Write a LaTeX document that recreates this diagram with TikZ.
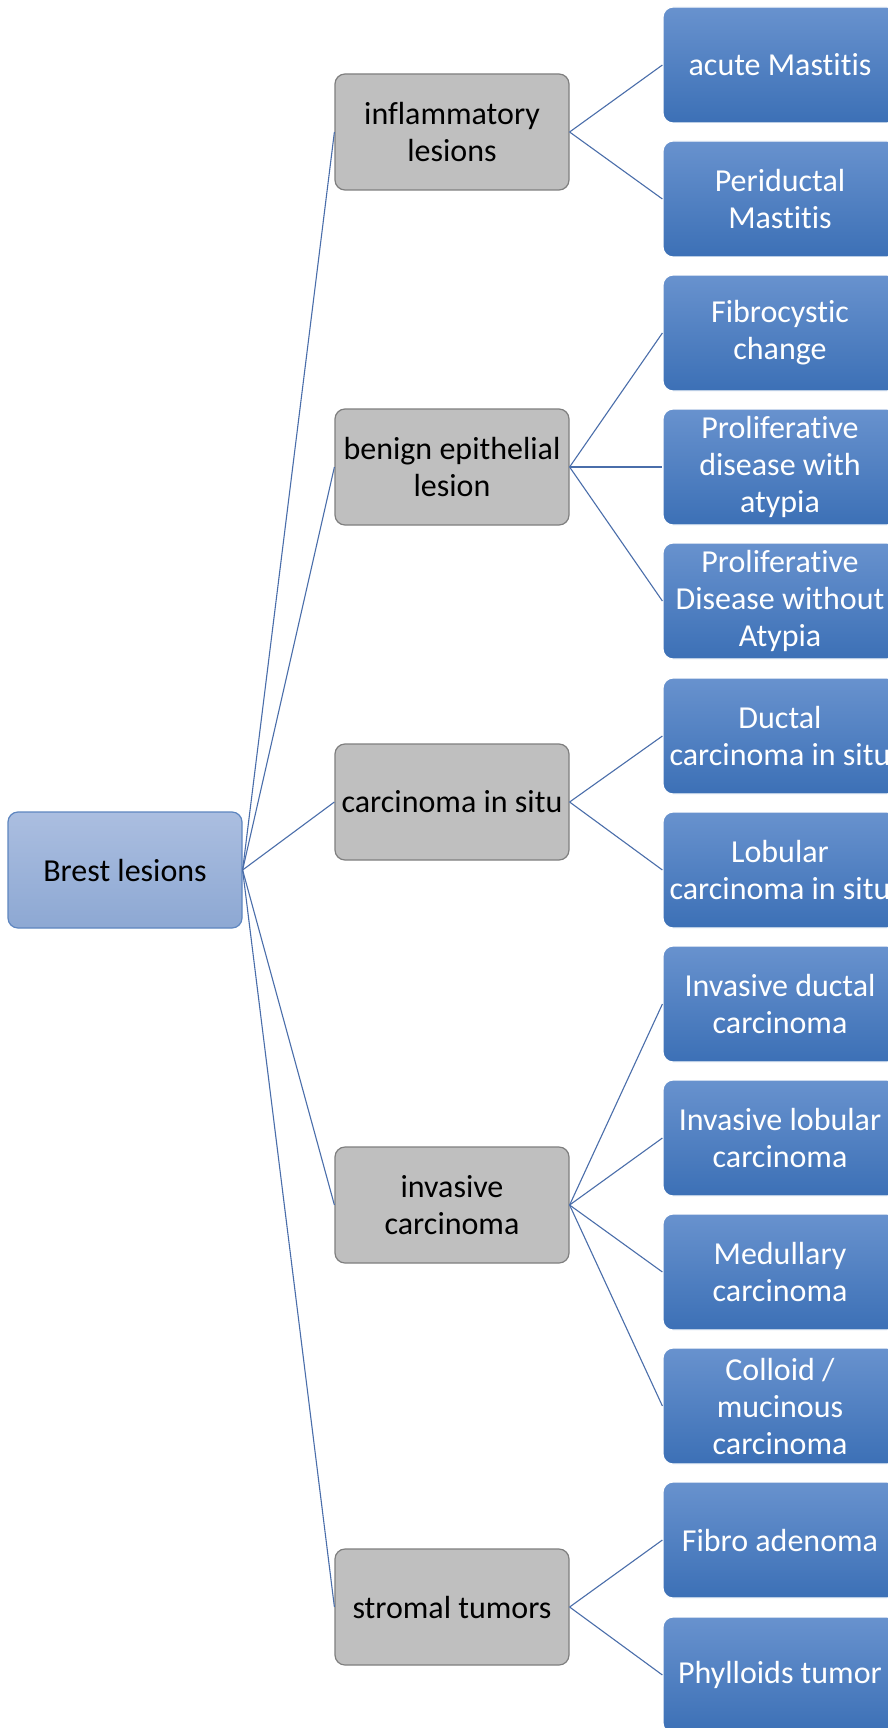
\documentclass[tikz,border=0pt]{standalone}
\usepackage{fontspec}
\setmainfont{Carlito}[Ligatures=NoCommon]
\definecolor{rootA}{HTML}{ABBEE0}
\definecolor{rootB}{HTML}{8DA8D3}
\definecolor{rootline}{HTML}{5E86C0}
\definecolor{grayfill}{HTML}{BFBFBF}
\definecolor{grayline}{HTML}{7F7F7F}
\definecolor{leafA}{HTML}{6892CE}
\definecolor{leafB}{HTML}{3C70B6}
\definecolor{linkblue}{HTML}{4A6EAA}
\tikzset{
        box/.style={rounded corners=10pt, minimum width=234pt, minimum height=116pt, align=center, inner sep=2pt, font=\fontsize{32}{37}\selectfont},
        root/.style={box, draw=rootline, line width=1.2pt, top color=rootA, bottom color=rootB, text=black},
        group/.style={box, draw=grayline, line width=1.2pt, fill=grayfill, text=black},
        leaf/.style={box, draw=white, line width=1.2pt, top color=leafA, bottom color=leafB, text=white},
        link/.style={draw=linkblue, line width=1.1pt}
          }
\begin{document}
\begin{tikzpicture}[x=1pt,y=-1pt]
        \clip (0,0) rectangle (888,1728);
        \fill[white] (0,0) rectangle (888,1728);
        % root and groups
        \node[root] (brest) at (125,870) {Brest lesions};
        \node[group] (infl) at (452,132) {inflammatory\\lesions};
        \node[group] (benign) at (452,467) {benign epithelial\\lesion};
        \node[group] (cis) at (452,802) {carcinoma in situ};
        \node[group] (inv) at (452,1205) {invasive\\carcinoma};
        \node[group] (strom) at (452,1607) {stromal tumors};
        % leaves
        \node[leaf] (acute) at (780,65) {acute Mastitis};
        \node[leaf] (peri) at (780,199) {Periductal\\Mastitis};
        \node[leaf] (fibro) at (780,333) {Fibrocystic\\change};
        \node[leaf] (prolA) at (780,467) {Proliferative\\disease with\\atypia};
        \node[leaf] (prolB) at (780,601) {Proliferative\\Disease without\\Atypia};
        \node[leaf] (dcis) at (780,736) {Ductal\\carcinoma in situ};
        \node[leaf] (lcis) at (780,870) {Lobular\\carcinoma in situ};
        \node[leaf] (idc) at (780,1004) {Invasive ductal\\carcinoma};
        \node[leaf] (ilc) at (780,1138) {Invasive lobular\\carcinoma};
        \node[leaf] (med) at (780,1272) {Medullary\\carcinoma};
        \node[leaf] (coll) at (780,1406) {Colloid /\\mucinous\\carcinoma};
        \node[leaf] (fa) at (780,1540) {Fibro adenoma};
        \node[leaf] (phyl) at (780,1675) {Phylloids tumor};
        % connectors
        \foreach \g in {infl,benign,cis,inv,strom}
          \draw[link] (brest.east) -- (\g.west);
        \draw[link] (infl.east) -- (acute.west);
        \draw[link] (infl.east) -- (peri.west);
        \draw[link] (benign.east) -- (fibro.west);
        \draw[link] (benign.east) -- (prolA.west);
        \draw[link] (benign.east) -- (prolB.west);
        \draw[link] (cis.east) -- (dcis.west);
        \draw[link] (cis.east) -- (lcis.west);
        \draw[link] (inv.east) -- (idc.west);
        \draw[link] (inv.east) -- (ilc.west);
        \draw[link] (inv.east) -- (med.west);
        \draw[link] (inv.east) -- (coll.west);
        \draw[link] (strom.east) -- (fa.west);
        \draw[link] (strom.east) -- (phyl.west);
\end{tikzpicture}
\end{document}
